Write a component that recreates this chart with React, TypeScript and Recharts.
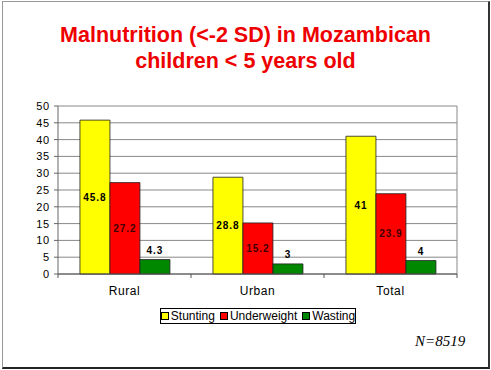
import React from "react";
import { BarChart, Bar, XAxis, YAxis, CartesianGrid, LabelList } from "recharts";

const categories = ["Rural", "Urban", "Total"];
const stunting = [45.8, 28.8, 41];
const underweight = [27.2, 15.2, 23.9];
const wasting = [4.3, 3, 4];
const yTicks = [0, 5, 10, 15, 20, 25, 30, 35, 40, 45, 50];
const seriesNames = ["Stunting", "Underweight", "Wasting"];
const seriesColors = ["#FFFF00", "#FF0000", "#008800"];
const labelColors = ["#000000", "#400000", "#000000"];

const rows = categories.map((c, i) => ({
  name: c,
  Stunting: stunting[i],
  Underweight: underweight[i],
  Wasting: wasting[i],
}));

const FONT = '"Liberation Sans", Arial, sans-serif';

// category axis: label in the middle, tick marks on the band edges
function CatTick(props: any) {
  const { x, y, payload, index, visibleTicksCount } = props;
  const half = payload?.offset ?? 0;
  const last = index === visibleTicksCount - 1;
  return (
    <g>
      <line x1={x - half} x2={x - half} y1={y} y2={y + 4} stroke="#555" />
      {last && <line x1={x + half} x2={x + half} y1={y} y2={y + 4} stroke="#555" />}
      <text x={x} y={y + 21} textAnchor="middle" fontSize={12} fontFamily={FONT} fill="#000" letterSpacing={0.6}>
        {payload.value}
      </text>
    </g>
  );
}

const labelStyle = { fontSize: 10, fontWeight: 700, fontFamily: FONT, letterSpacing: 1 };

export default function App() {
  return (
    <div style={{ position: "fixed", left: 0, top: 0, width: 491, height: 370, background: "#fff" }}>
      <div
        style={{
          position: "absolute",
          left: 2,
          top: 1,
          width: 485,
          height: 365,
          borderTop: "1px solid #999",
          borderLeft: "1px solid #999",
          borderRight: "2px solid #333",
          borderBottom: "2px solid #222",
        }}
      />
      <div
        style={{
          position: "absolute",
          left: 0,
          top: 22,
          width: 491,
          textAlign: "center",
          color: "#EE0000",
          fontFamily: FONT,
          fontWeight: 700,
          fontSize: 21.5,
          lineHeight: "26px",
        }}
      >
        Malnutrition (&lt;-2 SD) in Mozambican
        <br />
        children &lt; 5 years old
      </div>
      <div style={{ position: "absolute", left: 0, top: 0 }}>
        <BarChart
          width={491}
          height={370}
          data={rows}
          margin={{ top: 106, right: 34, left: 8, bottom: 66 }}
          barCategoryGap="16.5%"
          barGap={0}
        >
          <CartesianGrid
            stroke="#888"
            vertical
            verticalCoordinatesGenerator={({ offset }: any) => [offset.left + offset.width]}
          />
          <XAxis
            dataKey="name"
            height={30}
            stroke="#555"
            tickLine={false}
            tickSize={0}
            tickMargin={0}
            interval={0}
            tick={<CatTick />}
          />
          <YAxis
            width={50}
            domain={[0, 50]}
            ticks={yTicks}
            interval={0}
            stroke="#666"
            tickSize={4}
            tickMargin={4}
            tick={{ fill: "#000", fontSize: 11, fontFamily: FONT, letterSpacing: 0.8 }}
          />
          {seriesNames.map((s, i) => (
            <Bar key={s} dataKey={s} fill={seriesColors[i]} stroke="#222" strokeWidth={0.8} isAnimationActive={false}>
              <LabelList
                dataKey={s}
                position={i === 2 ? "top" : "center"}
                offset={6}
                fill={labelColors[i]}
                style={labelStyle}
              />
            </Bar>
          ))}
        </BarChart>
      </div>
      <div
        style={{
          position: "absolute",
          left: 160,
          top: 308,
          width: 194,
          height: 14,
          border: "1px solid #000",
          display: "flex",
          alignItems: "center",
          justifyContent: "center",
          gap: 5,
          fontFamily: FONT,
          fontSize: 12,
          color: "#000",
          background: "#fff",
        }}
      >
        {seriesNames.map((s, i) => (
          <span key={s} style={{ display: "flex", alignItems: "center", gap: 2 }}>
            <span style={{ width: 6, height: 6, background: seriesColors[i], border: "1px solid #000" }} />
            {s}
          </span>
        ))}
      </div>
      <div
        style={{
          position: "absolute",
          left: 415,
          top: 333,
          fontFamily: '"Liberation Serif", "Times New Roman", serif',
          fontStyle: "italic",
          fontSize: 15,
          color: "#000",
        }}
      >
        N=8519
      </div>
    </div>
  );
}
